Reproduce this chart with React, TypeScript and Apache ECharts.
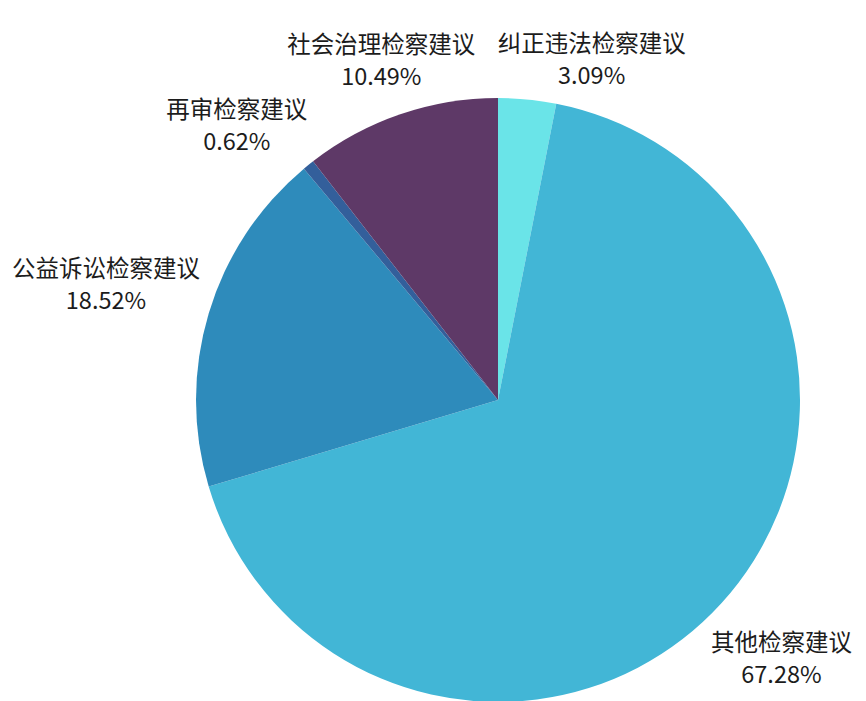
import React, { useEffect, useRef } from 'react';
import * as echarts from 'echarts';

// Slices in clockwise order starting from 12 o'clock
const categories = ['纠正违法检察建议', '其他检察建议', '公益诉讼检察建议', '再审检察建议', '社会治理检察建议'];
const percentages = [3.09, 67.28, 18.52, 0.62, 10.49];
const colors = ['#6ae4e8', '#42b6d6', '#2e8bbb', '#335f9b', '#5e3967'];

const CX = 498;
const CY = 400;
const R = 302;
const FONT_SIZE = 23.5;
const LINE_H = 32;
const FONT_FAMILY = '"Noto Sans CJK SC", "Noto Sans", sans-serif';
const GAP = 8;
const MARGIN_X = 22;
const MARGIN_Y = 0;

type Box = { x0: number; x1: number; y0: number; y1: number; cx: number; cy: number };

function measure(text: string): number {
  const ctx = document.createElement('canvas').getContext('2d');
  if (!ctx) return text.length * FONT_SIZE;
  ctx.font = `${FONT_SIZE}px ${FONT_FAMILY}`;
  return ctx.measureText(text).width;
}

function boxAt(theta: number, w: number, h: number): Box {
  const rad = (theta * Math.PI) / 180;
  const dx = Math.sin(rad);
  const dy = -Math.cos(rad);
  let lo = 0;
  let hi = 1200;
  for (let i = 0; i < 60; i++) {
    const mid = (lo + hi) / 2;
    const cx = mid * dx;
    const cy = mid * dy;
    const x0 = cx - w / 2, x1 = cx + w / 2, y0 = cy - h / 2, y1 = cy + h / 2;
    const px = Math.min(Math.max(0, x0), x1);
    const py = Math.min(Math.max(0, y0), y1);
    const d = Math.hypot(px, py);
    if (d < R + GAP) lo = mid;
    else hi = mid;
  }
  const D = (lo + hi) / 2;
  const cx = D * dx;
  const cy = D * dy;
  return { x0: cx - w / 2, x1: cx + w / 2, y0: cy - h / 2, y1: cy + h / 2, cx, cy };
}

function conflicts(a: Box, b: Box): boolean {
  const xgap = Math.max(a.x0 - b.x1, b.x0 - a.x1);
  const ygap = Math.max(a.y0 - b.y1, b.y0 - a.y1);
  return xgap < MARGIN_X && ygap < MARGIN_Y;
}

function computeLabelBoxes(): Box[] {
  const total = percentages.reduce((s, v) => s + v, 0);
  const mids: number[] = [];
  let cum = 0;
  percentages.forEach((v) => {
    mids.push((360 * (cum + v / 2)) / total);
    cum += v;
  });
  const sizes = categories.map((c, i) => {
    const w = Math.max(measure(c), measure(percentages[i].toFixed(2) + '%'));
    return { w, h: LINE_H * 2 };
  });
  const order = percentages.map((_, i) => i).sort((a, b) => percentages[b] - percentages[a]);
  const boxes: Box[] = new Array(categories.length);
  const thetas: number[] = new Array(categories.length);
  const placed: number[] = [];
  order.forEach((i) => {
    let theta = mids[i];
    let box = boxAt(theta, sizes[i].w, sizes[i].h);
    for (let step = 0; step < 400; step++) {
      const hit = placed.find((j) => conflicts(box, boxes[j]));
      if (hit === undefined) break;
      let diff = theta - thetas[hit];
      while (diff > 180) diff -= 360;
      while (diff <= -180) diff += 360;
      theta += diff >= 0 ? 0.25 : -0.25;
      box = boxAt(theta, sizes[i].w, sizes[i].h);
    }
    boxes[i] = box;
    thetas[i] = theta;
    placed.push(i);
  });
  return boxes;
}

export default function App() {
  const ref = useRef<HTMLDivElement>(null);
  useEffect(() => {
    if (!ref.current) return;
    const chart = echarts.init(ref.current, null, { renderer: 'svg' });
    const boxes = computeLabelBoxes();
    chart.setOption({
      animation: false,
      backgroundColor: '#ffffff',
      series: [
        {
          type: 'pie',
          center: [CX, CY],
          radius: R,
          startAngle: 90,
          clockwise: true,
          avoidLabelOverlap: false,
          data: categories.map((name, i) => ({
            name,
            value: percentages[i],
            itemStyle: { color: colors[i] },
          })),
          itemStyle: { borderWidth: 0 },
          label: {
            show: true,
            position: 'outside',
            formatter: '{b}\n{d}%',
            fontSize: FONT_SIZE,
            lineHeight: LINE_H,
            fontFamily: FONT_FAMILY,
            color: '#1c1c1c',
            align: 'center',
          },
          labelLine: { show: false },
          labelLayout: (params: any) => {
            const b = boxes[params.dataIndex];
            return {
              x: CX + b.cx,
              y: CY + b.cy,
              align: 'center',
              verticalAlign: 'middle',
            };
          },
          emphasis: { disabled: true },
        },
      ],
    });
    return () => chart.dispose();
  }, []);
  return (
    <div
      ref={ref}
      style={{ position: 'absolute', left: 0, top: 0, width: 866, height: 701 }}
    />
  );
}
